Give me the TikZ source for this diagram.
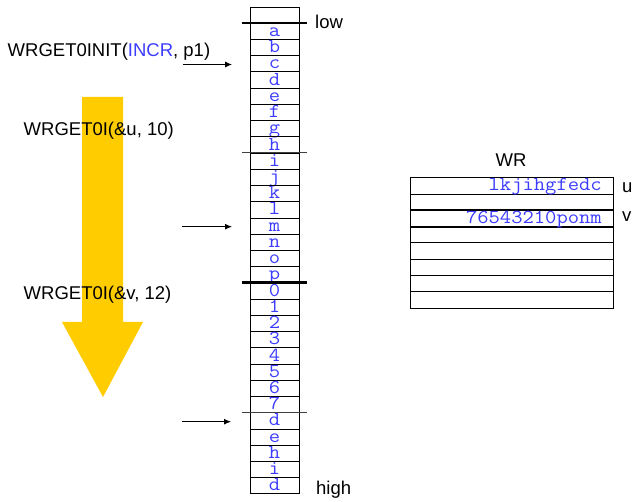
\documentclass[tikz,border=0pt]{standalone}
\usepackage{fontspec}
\setmainfont{Liberation Sans}
\usetikzlibrary{arrows.meta}
\definecolor{txtblue}{RGB}{60,60,255}
\definecolor{arrowyellow}{RGB}{255,204,0}
\newcommand{\cw}[1]{\scalebox{1.11}[1]{#1}}
\begin{document}
\begin{tikzpicture}[x=1pt,y=-1pt,
  font=\fontsize{18.5}{20}\selectfont,
  cell/.style={draw, line width=0.9pt, minimum width=49pt, minimum height=16.23pt, inner sep=0pt},
  celltxt/.style={anchor=base, inner sep=0pt, text=txtblue, font=\fontsize{19.8}{20}\ttfamily},
  wrcell/.style={draw, line width=0.9pt, minimum width=203pt, minimum height=16.3pt, inner sep=0pt},
  lbl/.style={anchor=base west, inner sep=0pt},
  ptr/.style={line width=0.9pt, -{Latex[length=7pt,width=6pt]}},
  sep/.style={line width=2.4pt},
  thinsep/.style={line width=0.9pt, draw=black!75}]
\useasboundingbox (0,0) rectangle (632,502);
% big yellow arrow
\fill[arrowyellow] (82,97) -- (123,97) -- (123,322) -- (143,322) -- (103,397) -- (62,322) -- (82,322) -- cycle;
% left texts
\node[lbl] (init) at (7.5,56.5) {WRGET0INIT(\textcolor{txtblue}{INCR}, p1)};
\node[lbl] (getu) at (23.5,136) {WRGET0I(\&u, 10)};
\node[lbl] (getv) at (23.5,299.5) {WRGET0I(\&v, 12)};
% column of cells
\node[cell] (c0) at (274.5,15.115) {};
\foreach [count=\i] \t in {a,b,c,d,e,f,g,h,i,j,k,l,m,n,o,p,0,1,2,3,4,5,6,7,d,e,h,i,d} {
  \pgfmathsetmacro\yc{7+16.23*\i+8.115}
  \node[cell] (c\i) at (274.5,\yc) {};
  \node[celltxt] (t\i) at (274.5,\yc+5.1) {\cw{\t}};
}
% separators
\draw[sep] ([xshift=-8pt]c1.north west) -- ([xshift=8pt]c1.north east);
\draw[thinsep] ([xshift=-8pt]c9.north west) -- ([xshift=8pt]c9.north east);
\draw[sep] ([xshift=-8pt]c17.north west) -- ([xshift=8pt]c17.north east);
\draw[thinsep] ([xshift=-8pt]c25.north west) -- ([xshift=8pt]c25.north east);
\node[lbl] (low) at (315,28.5) {low};
\node[lbl] (high) at (316,494.5) {high};
% pointers
\coordinate (s1) at (183,64.5); \coordinate (e1) at (232,64.5);
\coordinate (s2) at (182,226.7); \coordinate (e2) at (232,226.7);
\coordinate (s3) at (182,421.7); \coordinate (e3) at (231,421.7);
\draw[ptr] (s1) -- (e1);
\draw[ptr] (s2) -- (e2);
\draw[ptr] (s3) -- (e3);
% WR table
\node[anchor=base, inner sep=0pt] (wr) at (511,166.5) {WR};
\foreach \j in {0,...,7} {
  \pgfmathsetmacro\yw{177.7+16.3*\j+8.15}
  \node[wrcell] (w\j) at (511.5,\yw) {};
}
\draw[line width=1.5pt] (w2.north west) -- (w2.north east);
\draw[line width=1.5pt] (w2.south west) -- (w2.south east);
\node[celltxt, anchor=base east] (wu) at (602,191) {\cw{lkjihgfedc}};
\node[celltxt, anchor=base east] (wv) at (602,223.4) {\cw{76543210ponm}};
\node[lbl] (u) at (622,193) {u};
\node[lbl] (v) at (622,222) {v};
\end{tikzpicture}
\end{document}
